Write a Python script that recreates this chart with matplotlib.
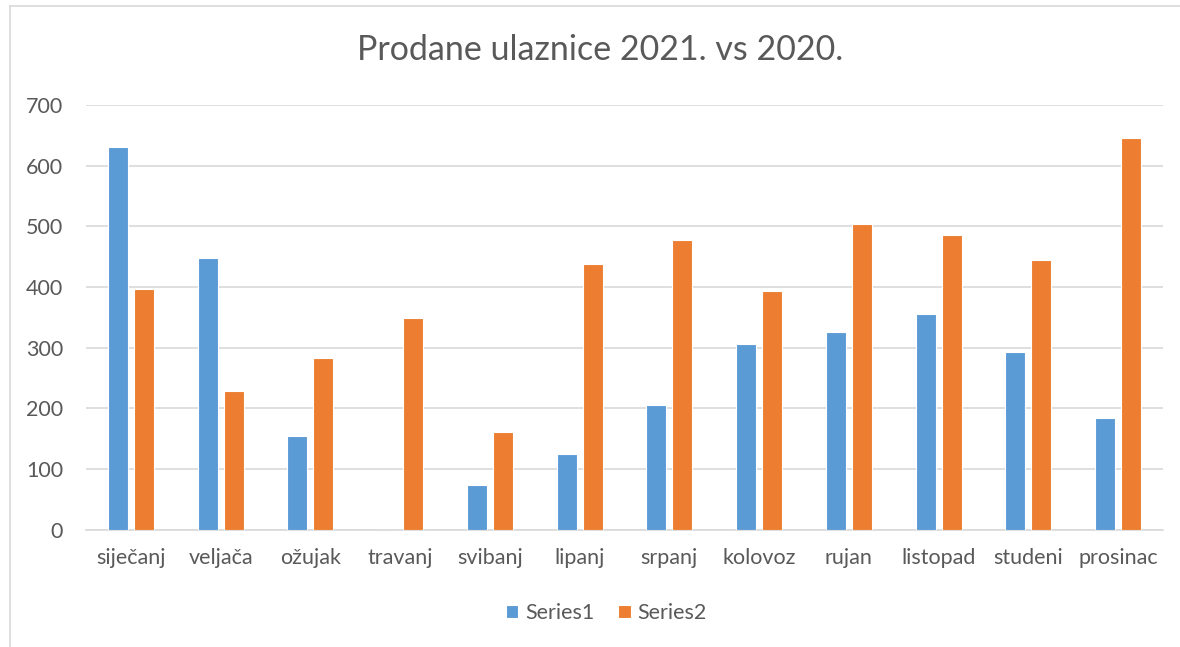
import numpy as np
import matplotlib.pyplot as plt
from matplotlib.lines import Line2D

months = ["siječanj", "veljača", "ožujak", "travanj", "svibanj", "lipanj",
          "srpanj", "kolovoz", "rujan", "listopad", "studeni", "prosinac"]
series1 = [630, 448, 155, 0, 74, 124, 206, 306, 326, 356, 293, 184]
series2 = [397, 229, 282, 348, 160, 438, 478, 394, 504, 486, 445, 646]
yticks = [0, 100, 200, 300, 400, 500, 600, 700]

plt.rcParams['font.family'] = ['Lato', 'DejaVu Sans']
txt = "#595959"

fig = plt.figure(figsize=(11.8, 6.47), dpi=100)
ax = fig.add_axes([86/1180, 1-529.5/647, (1163-86)/1180, (529.5-105)/647])

x = np.arange(len(months))
w = 0.225
ax.bar(x - 0.145, series1, w, color="#5B9BD5", edgecolor="white", linewidth=0.8, label="Series1", zorder=3)
ax.bar(x + 0.145, series2, w, color="#ED7D31", edgecolor="white", linewidth=0.8, label="Series2", zorder=3)

ax.set_xlim(-0.5, len(months) - 0.5)
ax.set_ylim(0, 700)
ax.set_yticks(yticks)
ax.set_xticks(x)
ax.set_xticklabels(months)
ax.grid(axis="y", color="#D9D9D9", linewidth=1.2, zorder=0)
for s in ["top", "right", "left"]:
    ax.spines[s].set_visible(False)
ax.spines["bottom"].set_color("#D9D9D9")
ax.spines["bottom"].set_linewidth(1.2)
ax.tick_params(length=0, labelsize=15.5, colors=txt, pad=13)
ax.tick_params(axis="y", pad=16.5)

fig.text(600/1180, 1 - 50/647, "Prodane ulaznice 2021. vs 2020.", ha="center", va="center",
         fontsize=24.5, color=txt)

fig.legend(loc="center", bbox_to_anchor=(606/1180, 1 - 613/647), ncol=2, frameon=False,
           fontsize=15.5, labelcolor=txt, handlelength=0.6, handleheight=0.6,
           handletextpad=0.3, columnspacing=1.1)

# outer chart border (only left and top edges visible)
fig.add_artist(Line2D([10/1180, 10/1180], [0, 1 - 6/647], transform=fig.transFigure,
                      color="#D9D9D9", linewidth=1.2))
fig.add_artist(Line2D([10/1180, 1], [1 - 6/647, 1 - 6/647], transform=fig.transFigure,
                      color="#D9D9D9", linewidth=1.2))

fig.savefig("out.png", dpi=100)
